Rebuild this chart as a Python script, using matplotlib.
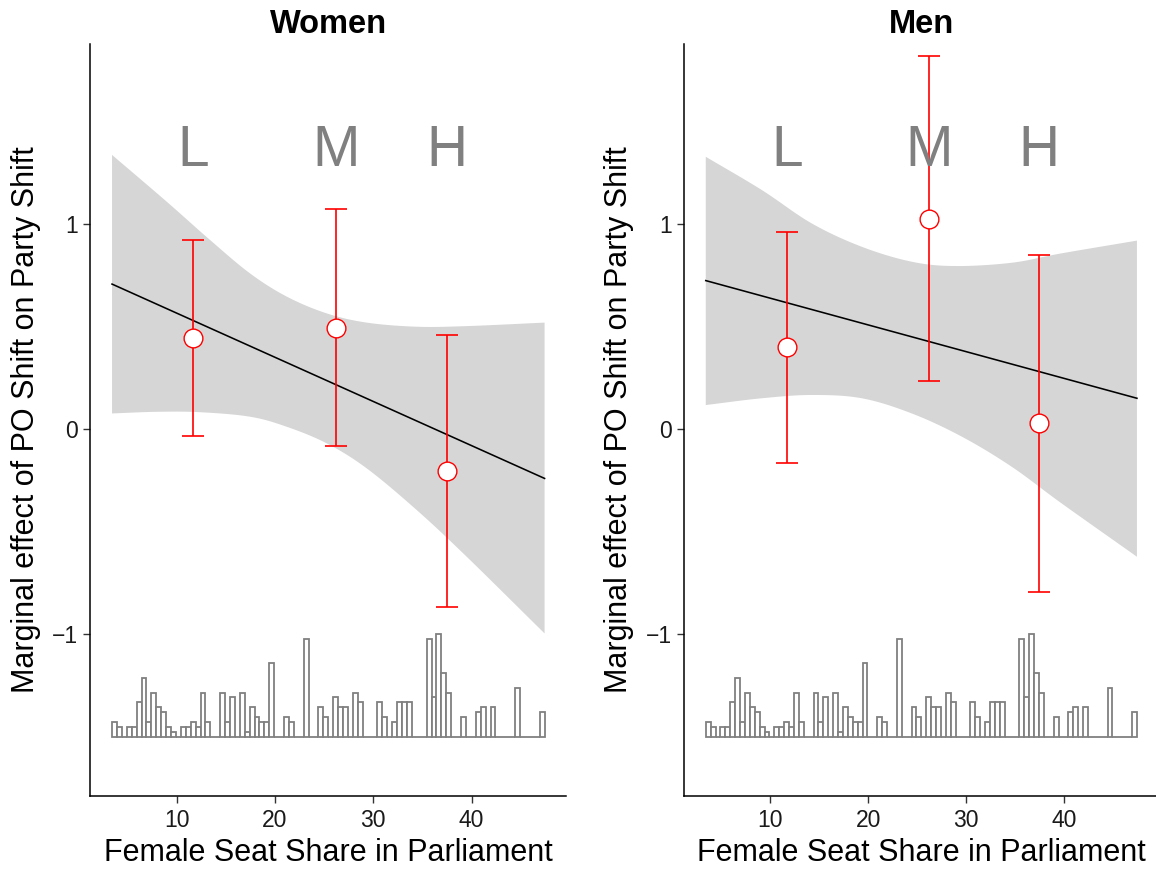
import matplotlib
matplotlib.use("Agg")
import matplotlib.pyplot as plt
import numpy as np

plt.rcParams['font.family'] = ['Liberation Sans', 'DejaVu Sans']

# ---------------- data ----------------
panels = ["Women", "Men"]
bin_labels = ["L", "M", "H"]
bin_x = [11.7, 26.25, 37.45]

women_est = [0.442, 0.494, -0.205]
women_lo = [-0.034, -0.083, -0.870]
women_hi = [0.922, 1.073, 0.459]

men_est = [0.398, 1.026, 0.028]
men_lo = [-0.164, 0.234, -0.795]
men_hi = [0.959, 1.820, 0.850]

# linear marginal effect line (endpoints)
line_x = [3.42, 47.42]
women_line = [0.707, -0.241]
men_line = [0.724, 0.150]

# confidence band edges
women_top_x = [3.42, 8.98, 13.39, 17.46, 21.19, 25.26, 29.33, 34.41, 39.5, 47.42]
women_top_y = [1.337, 1.109, 0.922, 0.759, 0.646, 0.564, 0.519, 0.499, 0.502, 0.519]
women_bot_x = [3.42, 8.0, 12.37, 17.46, 21.19, 25.26, 29.33, 34.41, 39.5, 47.42]
women_bot_y = [0.076, 0.084, 0.082, 0.060, 0.011, -0.070, -0.192, -0.395, -0.623, -0.997]

men_top_x = [3.42, 9.13, 14.23, 19.34, 24.44, 28.86, 34.64, 39.74, 47.42]
men_top_y = [1.328, 1.166, 1.003, 0.889, 0.816, 0.795, 0.811, 0.857, 0.919]
men_bot_x = [3.42, 9.13, 14.23, 19.34, 24.44, 29.54, 34.64, 39.74, 47.42]
men_bot_y = [0.117, 0.150, 0.166, 0.150, 0.076, -0.037, -0.184, -0.363, -0.623]

# histogram of the moderator (bins of width 0.5 starting at 3.42)
hist_start = 3.42
hist_width = 0.5
hist_counts = [3, 2, 0, 2, 2, 7, 12, 3, 9, 6, 5, 2, 1, 0, 2, 2, 3, 2, 9, 3,
               0, 0, 9, 3, 8, 0, 9, 1, 6, 4, 3, 3, 15, 0, 0, 4, 3, 0, 0, 20,
               0, 0, 6, 4, 0, 8, 6, 6, 0, 9, 7, 0, 0, 0, 7, 4, 0, 3, 7, 7,
               7, 0, 0, 0, 20, 8, 21, 13, 9, 0, 0, 4, 0, 0, 5, 6, 0, 6, 0, 0,
               0, 0, 10, 0, 0, 0, 0, 5]
hist_base = -1.5
hist_height = 0.5

xticks = [10, 20, 30, 40]
yticks = [-1, 0, 1]
xlabel = "Female Seat Share in Parliament"
ylabel = "Marginal effect of PO Shift on Party Shift"


def smooth_curve(xs, ys, n=30):
    """Catmull-Rom curve through the read-off points."""
    xs = np.asarray(xs, float)
    ys = np.asarray(ys, float)
    P = np.column_stack([xs, ys])
    P = np.vstack([2 * P[0] - P[1], P, 2 * P[-1] - P[-2]])
    out = []
    for k in range(1, len(P) - 2):
        p0, p1, p2, p3 = P[k - 1], P[k], P[k + 1], P[k + 2]
        t = np.linspace(0, 1, n, endpoint=False)[:, None]
        seg = 0.5 * ((2 * p1) + (-p0 + p2) * t + (2 * p0 - 5 * p1 + 4 * p2 - p3) * t ** 2
                     + (-p0 + 3 * p1 - 3 * p2 + p3) * t ** 3)
        out.append(seg)
    out.append(P[-2][None, :])
    out = np.vstack(out)
    return out[:, 0], out[:, 1]


# ---------------- figure ----------------
W, H = 1156, 871
fig = plt.figure(figsize=(W / 100, H / 100), dpi=100)

xlim = (1.22, 49.64)
ylim = (-1.79, 1.878)

ax_pos = [(90.4, 566.4), (684.2, 1158.7)]
top_px, bot_px = 44, 796

series = [
    (women_est, women_lo, women_hi, women_line, women_top_x, women_top_y, women_bot_x, women_bot_y),
    (men_est, men_lo, men_hi, men_line, men_top_x, men_top_y, men_bot_x, men_bot_y),
]

edges = hist_start + hist_width * np.arange(len(hist_counts))
hmax = max(hist_counts)

for i, (title, (est, lo, hi, ln, tx, ty, bx, by)) in enumerate(zip(panels, series)):
    l, r = ax_pos[i]
    ax = fig.add_axes([l / W, 1 - bot_px / H, (r - l) / W, (bot_px - top_px) / H])
    ax.set_xlim(*xlim)
    ax.set_ylim(*ylim)

    # band
    sx_t, sy_t = smooth_curve(tx, ty)
    sx_b, sy_b = smooth_curve(bx, by)
    poly_x = np.concatenate([sx_t, sx_b[::-1]])
    poly_y = np.concatenate([sy_t, sy_b[::-1]])
    ax.fill(poly_x, poly_y, color="#D6D6D6", lw=0, zorder=1)

    # line
    ax.plot(line_x, ln, color="black", lw=1.15, zorder=2)

    # histogram
    heights = np.array(hist_counts) / hmax * hist_height
    ax.bar(edges, heights, width=hist_width, bottom=hist_base, align="edge",
           facecolor="white", edgecolor="#808080", lw=1.3, zorder=3)

    # binning estimates
    est = np.array(est)
    yerr = np.vstack([est - np.array(lo), np.array(hi) - est])
    ax.errorbar(bin_x, est, yerr=yerr, fmt="none", ecolor="red", elinewidth=1.2,
                capsize=7.6, capthick=1.2, zorder=4)
    ax.plot(bin_x, est, "o", ms=13.5, mfc="white", mec="red", mew=1.0, zorder=5)

    for lab, xx in zip(bin_labels, bin_x):
        ax.text(xx, 1.356, lab, ha="center", va="center", fontsize=41,
                color="#808080", zorder=6)

    # axes style (classic)
    for s in ["top", "right"]:
        ax.spines[s].set_visible(False)
    for s in ["left", "bottom"]:
        ax.spines[s].set_linewidth(1.1)
        ax.spines[s].set_color("black")
    ax.set_xticks(xticks)
    ax.set_yticks(yticks)
    ax.tick_params(axis="both", direction="out", length=5, width=1.0,
                   color="#333333", labelsize=16.5, labelcolor="#1a1a1a", pad=4)
    ax.set_xlabel(xlabel, fontsize=22, labelpad=5)
    ax.set_ylabel(ylabel, fontsize=22, labelpad=8)
    ax.set_title(title, fontsize=23.5, fontweight="bold", pad=8)

fig.savefig("out.png", dpi=100)
